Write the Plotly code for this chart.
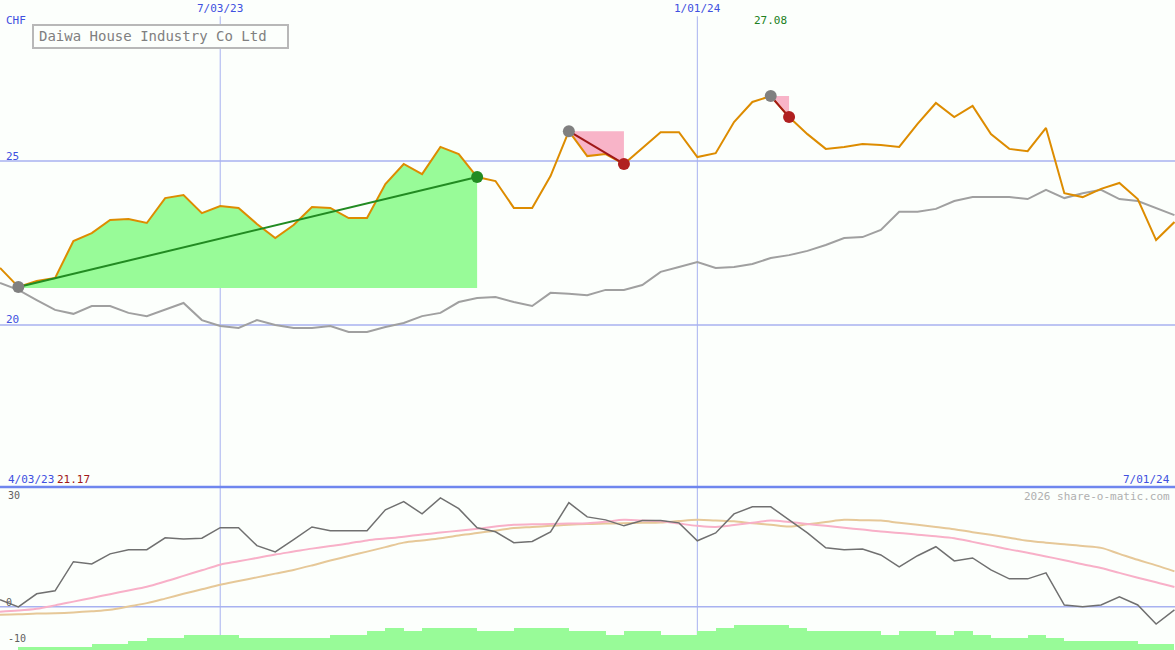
import plotly.graph_objects as go

# weekly points, week 0 = 10 Apr 2023
weeks = list(range(65))
price = [21.74, 21.16, 21.34, 21.43, 22.56, 22.80, 23.20, 23.23, 23.11, 23.87,
         23.96, 23.41, 23.63, 23.57, 23.08, 22.65, 23.05, 23.60, 23.57, 23.26,
         23.26, 24.30, 24.91, 24.60, 25.43, 25.21, 24.51, 24.39, 23.57, 23.57,
         24.54, 25.91, 25.15, 25.21, 24.91, 25.40, 25.88, 25.88, 25.12, 25.24,
         26.19, 26.80, 26.98, 26.34, 25.82, 25.37, 25.43, 25.52, 25.49, 25.43,
         26.13, 26.77, 26.34, 26.68, 25.82, 25.37, 25.30, 26.01, 24.02, 23.90,
         24.15, 24.33, 23.84, 22.59, 23.14]
ma = [21.28, 21.07, 20.76, 20.46, 20.34, 20.58, 20.58, 20.37, 20.27, 20.46,
      20.67, 20.15, 19.97, 19.91, 20.15, 20.00, 19.91, 19.91, 19.97, 19.79,
      19.79, 19.94, 20.06, 20.27, 20.37, 20.70, 20.82, 20.85, 20.70, 20.58,
      20.98, 20.95, 20.91, 21.07, 21.07, 21.22, 21.62, 21.77, 21.92, 21.74,
      21.77, 21.86, 22.04, 22.13, 22.26, 22.44, 22.65, 22.68, 22.90, 23.45,
      23.45, 23.54, 23.78, 23.90, 23.90, 23.90, 23.84, 24.12, 23.87, 24.02,
      24.12, 23.84, 23.78, 23.57, 23.35]
osc = [1.9, 0.0, 3.5, 4.3, 12.1, 11.5, 14.2, 15.3, 15.3, 18.5,
       18.2, 18.4, 21.2, 21.2, 16.4, 14.7, 18.0, 21.4, 20.4, 20.4,
       20.4, 26.0, 28.2, 24.9, 29.2, 26.3, 21.2, 20.1, 17.2, 17.5,
       20.1, 27.9, 24.1, 23.3, 21.7, 23.1, 23.1, 22.5, 17.7, 19.8,
       24.9, 26.8, 26.8, 23.3, 19.8, 15.8, 15.3, 15.5, 13.9, 10.7,
       13.7, 16.1, 12.3, 13.1, 9.9, 7.5, 7.5, 9.1, 0.5, 0.0,
       0.5, 2.7, 0.5, -4.6, -0.8]
osc_fast = [-1.3, -1.0, -0.5, 0.4, 1.4, 2.4, 3.4, 4.4, 5.4, 6.8,
            8.3, 9.8, 11.3, 12.2, 13.1, 14.0, 14.8, 15.6, 16.3, 17.0,
            17.8, 18.3, 18.8, 19.4, 19.9, 20.4, 20.9, 21.5, 22.0, 22.1,
            22.2, 22.3, 22.4, 22.8, 23.3, 23.1, 22.9, 22.3, 21.7, 21.4,
            21.9, 22.5, 23.1, 22.7, 22.2, 21.7, 21.2, 20.7, 20.2, 19.8,
            19.3, 18.9, 18.4, 17.4, 16.4, 15.4, 14.5, 13.5, 12.5, 11.4,
            10.4, 9.1, 7.8, 6.6, 5.3]
osc_slow = [-2.1, -2.0, -1.8, -1.7, -1.5, -1.2, -0.8, 0.1, 1.0, 2.2,
            3.5, 4.7, 5.9, 6.9, 7.9, 8.9, 9.9, 11.1, 12.4, 13.6,
            14.8, 16.0, 17.2, 17.8, 18.4, 19.1, 19.8, 20.4, 21.1, 21.4,
            21.7, 22.0, 22.2, 22.3, 22.4, 22.5, 22.6, 23.0, 23.3, 23.1,
            22.9, 22.4, 22.0, 21.5, 22.1, 22.7, 23.3, 23.2, 23.1, 22.5,
            22.0, 21.4, 20.8, 20.0, 19.3, 18.5, 17.7, 17.2, 16.8, 16.3,
            15.8, 14.2, 12.6, 11.1, 9.5]
vol_weeks = list(range(1, 64))
vol = [2.7, 2.7, 2.7, 2.7, 6, 6, 9, 11.7, 11.7, 15, 15, 15, 11.7, 11.7, 11.7,
       11.7, 11.7, 15, 15, 19, 22.3, 19, 22.3, 22.3, 22.3, 19, 19, 22.3, 22.3,
       22.3, 19, 19, 15, 19, 19, 15, 15, 19, 22.3, 25, 25, 25, 22.3, 19, 19,
       19, 19, 15, 19, 19, 15, 19, 15, 11.7, 11.7, 15, 11.7, 9, 9, 9, 9, 6, 6]

up_start, up_end = 1, 26
dn1 = (31, 34)
dn2 = (42, 43)
base_lvl = 21.13

GRID = "#a8b2f0"
FONT = "DejaVu Sans Mono"
fig = go.Figure()

# green rising area
xs = weeks[up_start:up_end + 1]
ys = price[up_start:up_end + 1]
fig.add_trace(go.Scatter(x=xs + [up_end, up_start], y=ys + [base_lvl, base_lvl],
                         fill="toself", fillcolor="#98fb98", line=dict(width=0),
                         mode="lines", hoverinfo="skip"))
# pink falling boxes
for a, b in (dn1, dn2):
    px_ = weeks[a:b + 1]
    py_ = price[a:b + 1]
    fig.add_trace(go.Scatter(x=px_ + [b, a], y=py_ + [price[a], price[a]],
                             fill="toself", fillcolor="#f8b4c8", line=dict(width=0),
                             mode="lines", hoverinfo="skip"))

fig.add_trace(go.Scatter(x=weeks, y=ma, mode="lines", line=dict(color="#a0a0a0", width=2)))
fig.add_trace(go.Scatter(x=weeks, y=price, mode="lines", line=dict(color="#dd8c00", width=2)))

fig.add_trace(go.Scatter(x=[up_start, up_end], y=[price[up_start], price[up_end]],
                         mode="lines", line=dict(color="#228b22", width=2)))
for a, b in (dn1, dn2):
    fig.add_trace(go.Scatter(x=[a, b], y=[price[a], price[b]], mode="lines",
                             line=dict(color="#a01818", width=2)))
mk_x = [up_start, dn1[0], dn2[0], up_end, dn1[1], dn2[1]]
mk_c = ["#808080", "#808080", "#808080", "#228b22", "#b02020", "#b02020"]
fig.add_trace(go.Scatter(x=mk_x, y=[price[i] for i in mk_x], mode="markers",
                         marker=dict(color=mk_c, size=12, line=dict(width=0))))

# lower panel
fig.add_trace(go.Bar(x=[w + 0.5 for w in vol_weeks], y=vol, width=1,
                     marker=dict(color="#98fb98", line=dict(width=0)),
                     xaxis="x2", yaxis="y3"))
fig.add_trace(go.Scatter(x=weeks, y=osc_slow, mode="lines", line=dict(color="#e6c898", width=2, shape="spline"),
                         xaxis="x2", yaxis="y2"))
fig.add_trace(go.Scatter(x=weeks, y=osc_fast, mode="lines", line=dict(color="#f8b0c8", width=2, shape="spline"),
                         xaxis="x2", yaxis="y2"))
fig.add_trace(go.Scatter(x=weeks, y=osc, mode="lines", line=dict(color="#707070", width=1.5),
                         xaxis="x2", yaxis="y2"))

split = 1 - 487 / 650
xr = [0, 64.03]
ax = dict(range=xr, showgrid=False, zeroline=False, showticklabels=False, fixedrange=True)
fig.update_layout(
    width=1175, height=650, margin=dict(l=0, r=0, t=0, b=0),
    paper_bgcolor="#fcfffc", plot_bgcolor="#fcfffc", showlegend=False, bargap=0,
    font=dict(family=FONT, size=11),
    xaxis=dict(ax, anchor="y"),
    yaxis=dict(domain=[split, 1], range=[15.06, 29.91], showgrid=False, zeroline=False,
               showticklabels=False),
    xaxis2=dict(ax, anchor="y2"),
    yaxis2=dict(domain=[0, split], range=[-11.55, 32.1], showgrid=False, zeroline=False,
                showticklabels=False),
    yaxis3=dict(domain=[0, split], range=[0, 163], overlaying="y2", showgrid=False,
                zeroline=False, showticklabels=False),
)

shapes = []
for lvl in (25, 20):
    shapes.append(dict(type="line", xref="paper", x0=0, x1=1, yref="y", y0=lvl, y1=lvl,
                       line=dict(color=GRID, width=1.5), layer="below"))
shapes.append(dict(type="line", xref="paper", x0=0, x1=1, yref="y2", y0=0, y1=0,
                   line=dict(color=GRID, width=1.5), layer="below"))
shapes.append(dict(type="line", xref="paper", x0=0, x1=1, yref="paper", y0=split, y1=split,
                   line=dict(color="#6f86ee", width=2.5)))
for w in (12, 38):
    shapes.append(dict(type="line", xref="x", x0=w, x1=w, yref="paper", y0=0, y1=0.975,
                       line=dict(color=GRID, width=1), layer="below"))
shapes.append(dict(type="rect", xref="paper", yref="paper", x0=33 / 1175, x1=288 / 1175,
                   y0=1 - 48 / 650, y1=1 - 25 / 650, line=dict(color="#b8b8b8", width=2),
                   fillcolor="#fcfffc"))
fig.update_layout(shapes=shapes)


def lab(x, y, t, color, size=11, xanchor="left", xref="paper"):
    fig.add_annotation(x=x, y=y, xref=xref, yref="paper", text=t, showarrow=False,
                       xanchor=xanchor, yanchor="middle", font=dict(color=color, size=size, family=FONT))


lab(4 / 1175, 1 - 20 / 650, "CHF", "#4050e0")
lab(12, 1 - 9 / 650, "7/03/23", "#4050e0", xanchor="center", xref="x")
lab(38, 1 - 9 / 650, "1/01/24", "#4050e0", xanchor="center", xref="x")
lab(42, 1 - 21 / 650, "27.08", "#208020", xanchor="center", xref="x")
lab(4 / 1175, 1 - 156 / 650, "25", "#4050e0")
lab(4 / 1175, 1 - 319 / 650, "20", "#4050e0")
lab(37 / 1175, 1 - 36 / 650, "Daiwa House Industry Co Ltd", "#808080", size=14)
lab(6 / 1175, 1 - 479 / 650, "4/03/23", "#4050e0")
lab(55 / 1175, 1 - 479 / 650, "21.17", "#a01818")
lab(1172 / 1175, 1 - 479 / 650, "7/01/24", "#4050e0", xanchor="right")
lab(6 / 1175, 1 - 495 / 650, "30", "#606060", size=10)
lab(4 / 1175, 1 - 602 / 650, "0", "#606060", size=10)
lab(6 / 1175, 1 - 638 / 650, "-10", "#606060", size=10)
lab(1172 / 1175, 1 - 496 / 650, "2026 share-o-matic.com", "#b0b0b0", xanchor="right")

fig.write_html("out.html", config={"displayModeBar": False})
# drop the default page margin so the figure fills the window exactly
with open("out.html", encoding="utf-8") as f:
    page = f.read()
page = page.replace("<head>", "<head><style>html,body{margin:0;padding:0;overflow:hidden}</style>", 1)
with open("out.html", "w", encoding="utf-8") as f:
    f.write(page)
